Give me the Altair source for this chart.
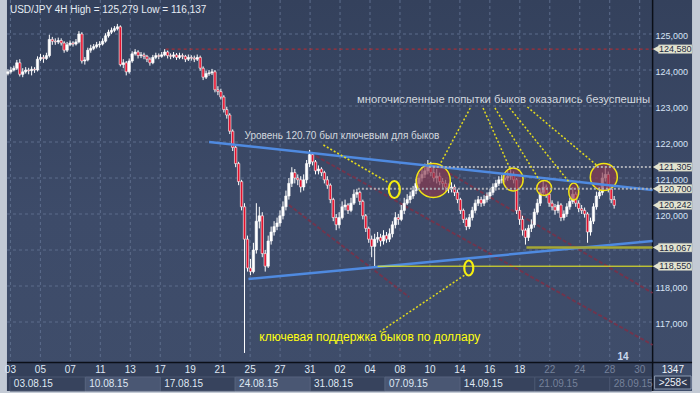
import altair as alt
import pandas as pd

# ---------------- data ----------------
title_text = "USD/JPY 4H High = 125,279 Low = 116,137"
first_open = 123.90
close = [123.95,124.00,124.05,124.20,123.88,123.95,124.00,123.98,124.02,124.00,
         124.30,124.35,124.32,124.40,124.85,124.80,124.78,124.82,124.75,124.55,
         124.70,124.75,124.72,124.78,125.00,124.25,124.28,124.55,124.60,124.65,
         124.70,124.72,124.80,124.95,125.05,125.10,125.15,125.20,124.15,124.20,
         123.95,124.25,124.45,124.50,124.40,124.42,124.38,124.30,124.20,124.35,
         124.40,124.38,124.42,124.50,124.40,124.38,124.42,124.35,124.40,124.38,
         124.30,124.35,124.33,124.30,124.35,124.05,123.80,123.90,123.92,123.95,
         123.45,123.40,123.25,122.90,122.75,122.30,121.85,121.40,120.90,120.20,
         119.30,118.50,118.40,119.00,119.80,119.95,118.90,118.55,119.25,119.50,
         119.65,119.75,119.95,120.20,120.50,120.85,121.15,121.00,120.95,120.75,
         120.95,121.40,121.65,121.45,121.20,121.25,121.15,120.95,120.80,120.40,
         119.90,119.70,119.90,120.20,120.25,120.10,120.30,120.55,120.60,120.35,
         119.95,119.60,119.30,119.10,119.30,119.35,119.25,119.40,119.30,119.45,
         119.70,119.90,119.85,120.10,120.30,120.40,120.50,120.65,120.85,121.00,
         121.10,121.20,121.35,121.15,121.00,121.05,120.90,120.85,120.75,120.70,
         120.75,120.60,120.40,120.10,119.85,119.65,119.90,120.10,120.30,120.40,
         120.30,120.40,120.50,120.60,120.75,120.85,120.95,120.95,121.00,121.05,
         121.10,120.95,120.10,119.85,119.55,119.35,119.60,119.70,120.05,120.30,
         120.60,120.75,120.55,120.30,120.20,120.10,120.25,119.90,120.00,120.20,
         120.35,120.55,120.30,120.15,120.10,120.00,119.50,119.80,120.20,120.50,
         120.60,121.00,121.10,120.70,120.40,120.24]
high = [124.02,124.08,124.12,124.28,124.30,124.05,124.08,124.06,124.10,124.08,
        124.38,124.45,124.42,124.48,124.98,124.92,124.88,124.90,124.88,124.80,
        124.78,124.82,124.80,124.86,125.08,125.05,124.36,124.62,124.70,124.72,
        124.78,124.80,124.88,125.02,125.12,125.18,125.22,125.28,125.24,124.30,
        124.25,124.32,124.52,124.58,124.55,124.50,124.48,124.42,124.35,124.42,
        124.48,124.46,124.50,124.58,124.54,124.46,124.50,124.47,124.48,124.46,
        124.42,124.43,124.41,124.40,124.43,124.40,124.10,123.98,124.00,124.03,
        124.00,123.55,123.48,123.30,122.98,122.80,122.35,121.92,121.45,120.95,
        120.30,119.40,118.75,119.20,120.30,120.20,120.05,119.00,119.40,119.65,
        119.80,119.90,120.10,120.35,120.65,121.00,121.30,121.25,121.10,121.05,
        121.10,121.50,121.78,121.70,121.50,121.35,121.30,121.20,121.05,120.85,
        120.45,120.00,120.05,120.35,120.40,120.30,120.45,120.68,120.70,120.65,
        120.40,120.00,119.65,119.40,119.45,119.50,119.45,119.55,119.50,119.60,
        119.80,120.05,120.00,120.25,120.45,120.55,120.62,120.78,120.98,121.15,
        121.30,121.40,121.50,121.45,121.30,121.25,121.15,121.00,120.95,120.85,
        120.88,120.82,120.68,120.45,120.15,119.90,120.00,120.20,120.40,120.50,
        120.48,120.52,120.60,120.70,120.85,120.95,121.05,121.08,121.15,121.22,
        121.25,121.18,121.00,120.20,119.95,119.60,119.70,119.85,120.15,120.42,
        120.72,120.92,120.82,120.60,120.38,120.28,120.35,120.30,120.10,120.30,
        120.45,120.75,120.62,120.38,120.25,120.18,120.05,119.90,120.30,120.62,
        120.75,121.15,121.30,121.18,120.78,120.50]
low = [123.85,123.90,123.96,124.00,123.82,123.80,123.90,123.88,123.85,123.92,
       123.96,124.25,124.20,124.28,124.35,124.70,124.70,124.72,124.68,124.48,
       124.50,124.66,124.65,124.68,124.74,124.18,124.15,124.24,124.48,124.55,
       124.60,124.62,124.68,124.76,124.90,125.00,125.05,125.10,124.10,124.05,
       123.85,123.90,124.20,124.40,124.32,124.33,124.30,124.22,124.12,124.16,
       124.30,124.30,124.34,124.38,124.32,124.30,124.33,124.28,124.30,124.30,
       124.22,124.25,124.26,124.22,124.25,123.98,123.72,123.75,123.84,123.86,
       123.38,123.30,123.18,122.82,122.65,122.22,121.75,121.30,120.80,120.10,
       116.14,118.40,118.30,118.35,118.90,119.60,118.80,118.40,118.50,119.15,
       119.40,119.55,119.65,119.85,120.10,120.40,120.75,120.85,120.80,120.60,
       120.65,120.85,121.30,121.35,121.10,121.10,121.05,120.85,120.70,120.30,
       119.80,119.55,119.60,119.85,120.10,120.00,120.05,120.25,120.45,120.25,
       119.85,119.50,119.20,118.80,118.55,119.20,119.10,119.15,119.20,119.22,
       119.35,119.60,119.70,119.80,120.00,120.25,120.30,120.42,120.55,120.75,
       120.90,121.00,121.10,121.05,120.90,120.85,120.80,120.70,120.62,120.58,
       120.60,120.50,120.30,120.00,119.75,119.55,119.58,119.82,120.02,120.22,
       120.20,120.22,120.32,120.42,120.52,120.65,120.78,120.85,120.88,120.92,
       120.95,120.85,120.00,119.70,119.40,119.15,119.25,119.50,119.62,119.98,
       120.22,120.52,120.45,120.20,120.10,119.98,120.02,119.80,119.82,119.92,
       120.12,120.28,120.20,120.05,120.00,119.90,119.20,119.40,119.72,120.12,
       120.42,120.52,120.90,120.60,120.30,120.15]

price_ticks = [125, 124, 123, 122, 121, 120, 118, 117]
tick_texts = ["125,000", "124,000", "123,000", "122,000", "121,000", "120,000", "118,000", "117,000"]
grid_prices = [117, 118, 119, 120, 121, 122, 123, 124, 125]
day_labels = ["03", "05", "07", "11", "13", "17", "19", "21", "25", "27", "31",
              "02", "04", "08", "10", "14", "16", "18", "22", "24", "28", "30"]
day_future = [False] * 18 + [True] * 4
week_labels = ["03.08.15", "10.08.15", "17.08.15", "24.08.15", "31.08.15",
               "07.09.15", "14.09.15", "21.09.15", "28.09.15"]
week_shade = [False, True, False, True, False, True, False, False, False]
week_future = [False] * 7 + [True] * 2
badge_levels = [124.580, 121.305, 120.700, 120.242, 119.067, 118.550]
badge_texts = ["124,580", "121,305", "120,700", "120,242", "119,067", "118,550"]
level_red = 124.58
level_grey = [120.70, 121.305]
level_support = 118.55
level_olive = 119.067

txt_bulls = "многочисленные попытки быков оказались безуспешны"
txt_level = "Уровень 120.70 был ключевым для быков"
txt_support = "ключевая поддержка быков по доллару"

# ---------------- layout helpers (pixel -> data units) ----------------
W, H = 700, 393
def xi(px):
    return (px - 3) / 3.0

def yp(py):
    return 125 - (py - 34) / 36.0

def day_px(d):
    return 5.5 + 15.2 * d

FONT = "Liberation Sans"
xs = alt.Scale(domain=[xi(0), xi(W)], nice=False, zero=False)
ys = alt.Scale(domain=[yp(H), yp(0)], nice=False, zero=False)

def X(f="x"):
    return alt.X(f"{f}:Q", scale=xs, axis=None)

def Y(f="y"):
    return alt.Y(f"{f}:Q", scale=ys, axis=None)

def rect_layer(rows, **mk):
    df = pd.DataFrame(rows, columns=["x", "y", "x2", "y2"])
    return alt.Chart(df).mark_rect(**mk).encode(x=X(), y=Y(), x2="x2:Q", y2="y2:Q")

def seg_layer(rows, **mk):
    df = pd.DataFrame(rows, columns=["x", "y", "x2", "y2"])
    return alt.Chart(df).mark_rule(**mk).encode(x=X(), y=Y(), x2="x2:Q", y2="y2:Q")

def text_layer(rows, **mk):
    df = pd.DataFrame(rows, columns=["x", "y", "t"])
    return alt.Chart(df).mark_text(font=FONT, **mk).encode(x=X(), y=Y(), text="t:N")

def P(px0, py0, px1, py1):
    return (xi(px0), yp(py0), xi(px1), yp(py1))

grad = alt.Gradient(
    gradient="linear",
    stops=[alt.GradientStop(color="#34415c", offset=0),
           alt.GradientStop(color="#3d4b69", offset=0.55),
           alt.GradientStop(color="#3f4d6a", offset=1)],
    x1=0, x2=0, y1=0, y2=1)

layers = []
# backgrounds
layers.append(rect_layer([P(2, 0, 697, 391)], color=grad))
layers.append(rect_layer([P(2, 363, 657, 391)], color="#34405a"))
box_x = [5] + [day_px(5 * k) for k in range(1, 9)] + [656]
week_rows_shade, week_rows_plain = [], []
for k in range(len(week_labels)):
    r = P(box_x[k], 377, box_x[k + 1], 391)
    (week_rows_shade if week_shade[k] else week_rows_plain).append(r)
layers.append(rect_layer(week_rows_plain, color="#37435d", stroke="#4a5671", strokeWidth=1))
layers.append(rect_layer(week_rows_shade, color="#4a5773", stroke="#56637e", strokeWidth=1))
layers.append(rect_layer([P(659, 376, 696, 389)], color="#2f3a52", stroke="#8a98ae", strokeWidth=1))

# grid
layers.append(seg_layer([(xi(2), p, xi(656), p) for p in grid_prices],
                        color="#5d6d8c", strokeWidth=1, strokeDash=[3, 3]))
layers.append(seg_layer([(xi(day_px(d)), yp(0), xi(day_px(d)), yp(361)) for d in range(0, 43, 2)],
                        color="#5d6d8c", strokeWidth=1, strokeDash=[3, 3]))

# frame lines
layers.append(seg_layer([P(657, 0, 657, 391)], color="#0b0f18", strokeWidth=1.5))
layers.append(seg_layer([P(2, 362.5, 697, 362.5)], color="#0b0f18", strokeWidth=1.5))

# dark red channel lines
layers.append(seg_layer([P(288, 205, 410, 297), P(310, 153, 657, 345), P(440, 167, 657, 293)],
                        color="#7a3048", strokeWidth=2, strokeDash=[4, 2], opacity=0.85))
# red dotted 124.58
layers.append(seg_layer([(xi(163), level_red, xi(657), level_red)],
                        color="#c0282c", strokeWidth=1, strokeDash=[3, 3]))

# candles
bars = pd.DataFrame({"i": list(range(len(close))), "o": [first_open] + close[:-1],
                     "c": close, "h": high, "l": low})
base = alt.Chart(bars)
layers.append(base.mark_rule(color="white", strokeWidth=1).encode(
    x=X("i"), y=Y("l"), y2="h:Q"))
layers.append(base.mark_bar(size=2.4, stroke="white", strokeWidth=0.6).encode(
    x=X("i"), y=Y("o"), y2="c:Q",
    color=alt.condition("datum.c >= datum.o", alt.value("white"), alt.value("#e5102c"))))

# ellipse helper
def ell(a):
    k = 0.5523
    return (f"M{a},0 C{a},{k} {k*a},1 0,1 C{-k*a},1 {-a},{k} {-a},0 "
            f"C{-a},{-k} {-k*a},-1 0,-1 C{k*a},-1 {a},{-k} {a},0 Z")

def ell_rows(items):
    rows = []
    for cx, cy, rx, ry in items:
        rows.append({"x": xi(cx), "y": yp(cy), "shape": ell(rx / ry), "s": (2 * ry) ** 2})
    return pd.DataFrame(rows)

# filled circles (failed bull attempts)
filled = ell_rows([(434.5, 180.5, 17, 17), (515.5, 179.5, 10, 11.5), (547, 188, 7.5, 7.5),
                   (577, 191.5, 5, 8.5), (607.5, 177, 13.5, 13.5)])
layers.append(alt.Chart(filled).mark_point(filled=True, fill="#8a3a50", fillOpacity=0.68,
                                           stroke="#f0e414", strokeWidth=1.5, strokeOpacity=1, opacity=1).encode(
    x=X(), y=Y(), shape=alt.Shape("shape:N", scale=None), size=alt.Size("s:Q", scale=None)))

# blue trend lines
layers.append(seg_layer([P(207, 142, 657, 190), P(247, 279, 657, 241)],
                        color="#4f8ae0", strokeWidth=2.5))
# grey dotted levels
layers.append(seg_layer([(xi(358), level_grey[0], xi(657), level_grey[0]),
                         (xi(430), level_grey[1], xi(657), level_grey[1])],
                        color="#a9adb5", strokeWidth=2, strokeDash=[2, 2]))
# support lines
layers.append(seg_layer([(xi(378), level_support, xi(657), level_support)], color="#f5f51e", strokeWidth=1))
layers.append(seg_layer([(xi(529), level_olive, xi(657), level_olive)], color="#a4a636", strokeWidth=2.5))

# yellow dotted pointers
layers.append(seg_layer([P(472, 108, 442, 163), P(485, 108, 512, 168), P(497, 108, 542, 180),
                         P(512, 108, 573, 183), P(530, 107, 600, 165), P(323, 145, 388, 182),
                         P(380, 332, 468, 274)],
                        color="#e2da1e", strokeWidth=1.5, strokeDash=[2, 2]))
# open yellow ellipses
openell = ell_rows([(395, 189.5, 5.5, 8.5), (470.5, 268, 4.5, 7.5)])
layers.append(alt.Chart(openell).mark_point(filled=False, stroke="#f5ee10", strokeWidth=2.2, opacity=1).encode(
    x=X(), y=Y(), shape=alt.Shape("shape:N", scale=None), size=alt.Size("s:Q", scale=None)))

# annotation texts
layers.append(text_layer([(xi(357), yp(100), txt_bulls)], align="left", baseline="middle",
                         fontSize=11.3, color="#d3d8df"))
layers.append(text_layer([(xi(243), yp(136), txt_level)], align="left", baseline="middle",
                         fontSize=10, color="#d3d8df"))
layers.append(text_layer([(xi(258), yp(337), txt_support)], align="left", baseline="middle",
                         fontSize=12, color="#ffff10"))
layers.append(text_layer([(xi(5), yp(10), title_text)], align="left", baseline="middle",
                         fontSize=10, color="#e6ecf4"))
layers.append(text_layer([(xi(627), yp(357), "14")], align="center", baseline="middle",
                         fontSize=10, fontWeight="bold", color="#c9d8ee"))

# badges
layers.append(rect_layer([(xi(663), v + 0.12, xi(697), v - 0.12) for v in badge_levels],
                         color="#e3e4d0", stroke="#9aa0a0", strokeWidth=0.5))
layers.append(alt.Chart(pd.DataFrame({"x": [xi(660.5)] * len(badge_levels), "y": badge_levels}))
              .mark_point(shape="triangle-left", filled=True, color="#e3e4d0", size=55, opacity=1)
              .encode(x=X(), y=Y()))
layers.append(text_layer([(xi(680), v, t) for v, t in zip(badge_levels, badge_texts)],
                         align="center", baseline="middle", fontSize=9, color="#1c2940"))
# right price axis labels
layers.append(text_layer([(xi(660), p, t) for p, t in zip(price_ticks, tick_texts)],
                         align="left", baseline="middle", dy=1.5, fontSize=9, color="#d6e3f6"))

# bottom time axis
day_now = [(xi(day_px(2 * k)), yp(370), t) for k, t in enumerate(day_labels) if not day_future[k]]
day_fut = [(xi(day_px(2 * k)), yp(370), t) for k, t in enumerate(day_labels) if day_future[k]]
layers.append(text_layer(day_now, align="center", baseline="middle", fontSize=10, color="#dfe7f3"))
layers.append(text_layer(day_fut, align="center", baseline="middle", fontSize=10, color="#75819a"))
wk_now = [(xi(box_x[k] + 4), yp(383.5), t) for k, t in enumerate(week_labels) if not week_future[k]]
wk_fut = [(xi(box_x[k] + 4), yp(383.5), t) for k, t in enumerate(week_labels) if week_future[k]]
layers.append(text_layer(wk_now, align="left", baseline="middle", fontSize=10, color="#dfe7f3"))
layers.append(text_layer(wk_fut, align="left", baseline="middle", fontSize=10, color="#75819a"))
layers.append(text_layer([(xi(677.5), yp(369.5), "1347"), (xi(677.5), yp(383), ">258<")],
                         align="center", baseline="middle", fontSize=10, color="#eef2f8"))

chart = alt.layer(*layers).properties(
    width=W, height=H, padding=0, background="#c3cad5",
    autosize=alt.AutoSizeParams(type="none"),
).configure_view(stroke=None)

chart.save("out.html", embed_options={"renderer": "svg", "actions": False})
